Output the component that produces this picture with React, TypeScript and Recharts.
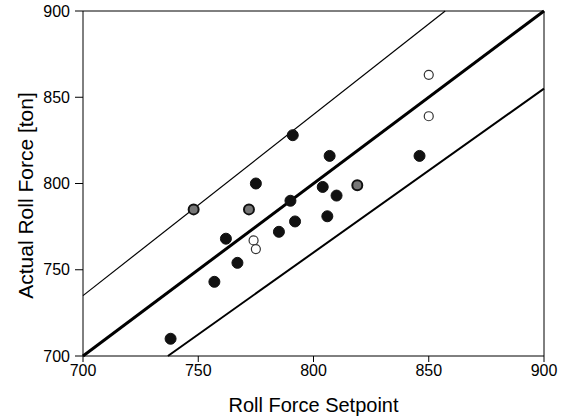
import React from "react";
import {
  ScatterChart,
  Scatter,
  XAxis,
  YAxis,
  ReferenceLine,
} from "recharts";

const solidPoints = [
  { x: 738, y: 710 },
  { x: 757, y: 743 },
  { x: 767, y: 754 },
  { x: 762, y: 768 },
  { x: 775, y: 800 },
  { x: 791, y: 828 },
  { x: 790, y: 790 },
  { x: 792, y: 778 },
  { x: 785, y: 772 },
  { x: 807, y: 816 },
  { x: 804, y: 798 },
  { x: 810, y: 793 },
  { x: 806, y: 781 },
  { x: 846, y: 816 },
];

const grayPoints = [
  { x: 748, y: 785 },
  { x: 772, y: 785 },
  { x: 819, y: 799 },
];

const hollowPoints = [
  { x: 774, y: 767 },
  { x: 775, y: 762 },
  { x: 850, y: 863 },
  { x: 850, y: 839 },
];

const ticks = [700, 750, 800, 850, 900];
const axisMin = 700;
const axisMax = 900;
const upperRatio = 1.05;
const lowerRatio = 0.95;

// ideal line and +/-5% band, clipped to the plot box
const idealLine = [
  { x: axisMin, y: axisMin },
  { x: axisMax, y: axisMax },
];
const upperLine = [
  { x: axisMin, y: axisMin * upperRatio },
  { x: axisMax / upperRatio, y: axisMax },
];
const lowerLine = [
  { x: axisMin / lowerRatio, y: axisMin },
  { x: axisMax, y: axisMax * lowerRatio },
];

const font = "'Liberation Sans', Arial, sans-serif";

const NoDot = () => <g />;

const dot = (fill: string, stroke: string, r: number, sw: number) => (props: any) =>
  <circle cx={props.cx} cy={props.cy} r={r} fill={fill} stroke={stroke} strokeWidth={sw} />;

// rotated y label, placed from the axis viewBox
const YLabel = (props: any) => {
  const vb = props.viewBox;
  const cx = vb.x + 25;
  const cy = vb.y + vb.height / 2 + 12;
  return (
    <text
      x={cx}
      y={cy}
      transform={`rotate(-90, ${cx}, ${cy})`}
      textAnchor="middle"
      dominantBaseline="central"
      fill="#000"
      fontSize={21}
      fontFamily={font}
    >
      Actual Roll Force [ton]
    </text>
  );
};

const App: React.FC = () => {
  return (
    <div style={{ position: "absolute", left: 0, top: 0, fontFamily: font }}>
      <ScatterChart
        width={564}
        height={417}
        margin={{ top: 11, right: 20, bottom: 0, left: 0 }}
      >
        <XAxis
          type="number"
          dataKey="x"
          domain={[axisMin, axisMax]}
          ticks={ticks}
          height={61}
          stroke="#000"
          tickLine={{ stroke: "#000" }}
          tickSize={6}
          tickMargin={3}
          tick={{ fill: "#000", fontSize: 16, fontFamily: font }}
          label={{
            value: "Roll Force Setpoint",
            position: "insideBottom",
            offset: 5,
            fill: "#000",
            fontSize: 20,
            fontFamily: font,
          }}
        />
        <YAxis
          type="number"
          dataKey="y"
          domain={[axisMin, axisMax]}
          ticks={ticks}
          width={83}
          stroke="#000"
          tickLine={{ stroke: "#000" }}
          tickSize={8}
          tickMargin={5}
          tick={{ fill: "#000", fontSize: 16, fontFamily: font }}
          label={<YLabel />}
        />
        <ReferenceLine y={axisMax} stroke="#000" strokeWidth={1} />
        <ReferenceLine x={axisMax} stroke="#000" strokeWidth={1} />
        <Scatter
          data={upperLine}
          line={{ stroke: "#000", strokeWidth: 1.2 }}
          shape={NoDot}
          isAnimationActive={false}
        />
        <Scatter
          data={idealLine}
          line={{ stroke: "#000", strokeWidth: 3 }}
          shape={NoDot}
          isAnimationActive={false}
        />
        <Scatter
          data={lowerLine}
          line={{ stroke: "#000", strokeWidth: 2 }}
          shape={NoDot}
          isAnimationActive={false}
        />
        <Scatter
          data={solidPoints}
          shape={dot("#111", "#111", 5.5, 1)}
          isAnimationActive={false}
        />
        <Scatter
          data={grayPoints}
          shape={dot("#777", "#111", 5, 2)}
          isAnimationActive={false}
        />
        <Scatter
          data={hollowPoints}
          shape={dot("#fff", "#333", 4.5, 1.2)}
          isAnimationActive={false}
        />
      </ScatterChart>
    </div>
  );
};

export default App;
